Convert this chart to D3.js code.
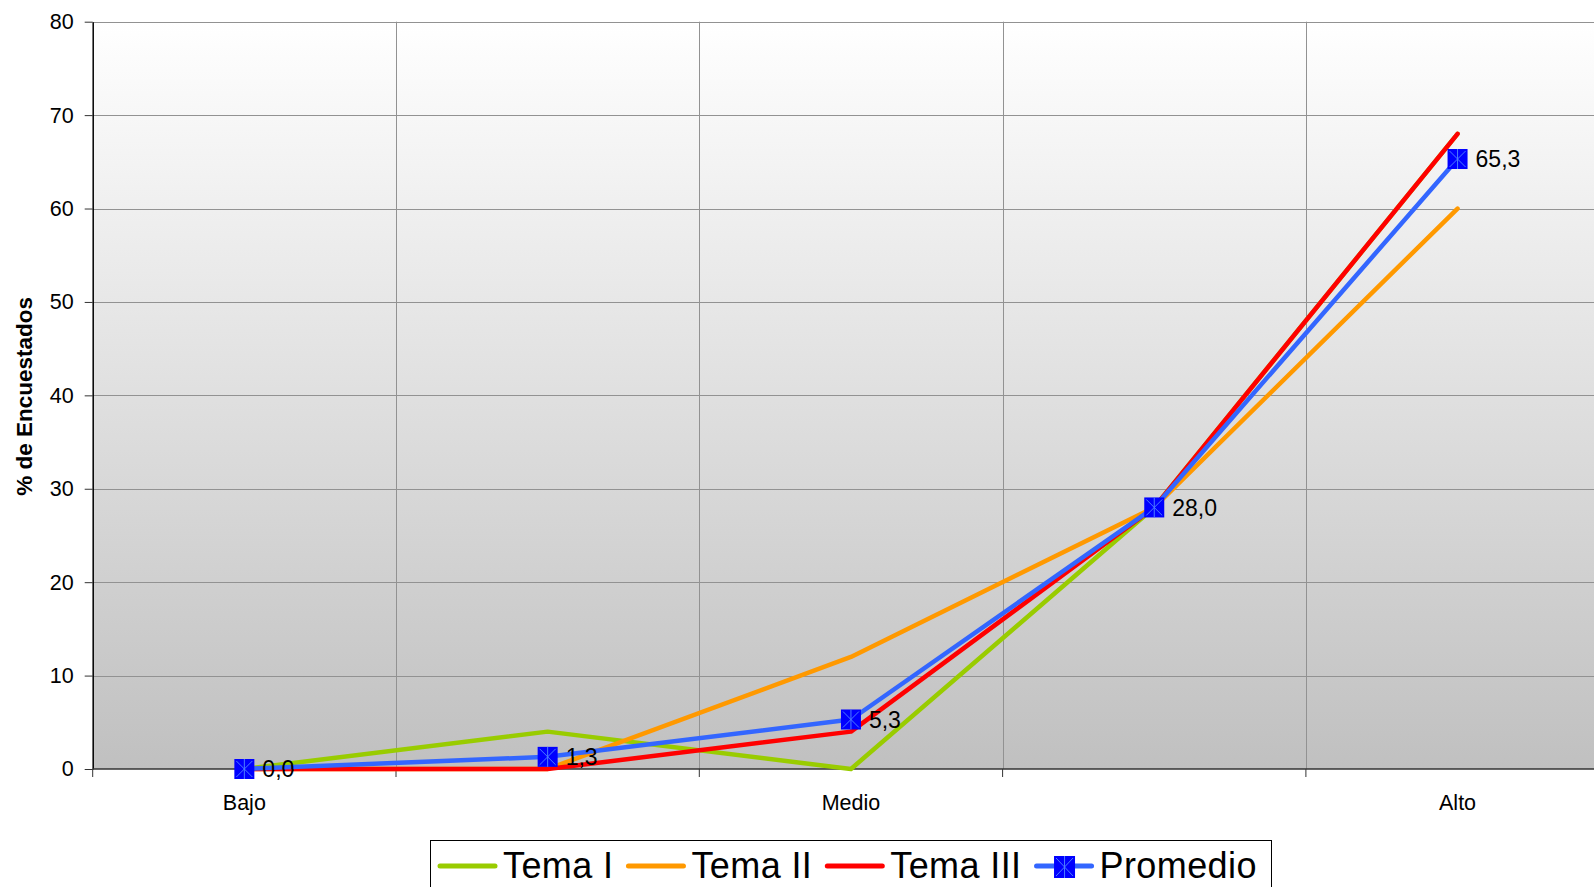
<!DOCTYPE html>
<html>
<head>
<meta charset="utf-8">
<script src="https://cdn.jsdelivr.net/npm/d3@7"></script>
<style>
    body { margin: 0; background: #fff; }
    svg { display: block; font-family: "Liberation Sans", Arial, sans-serif; }
</style>
</head>
<body>
<svg></svg>
<script>
let width = 1594
let height = 887

let categories = ['Bajo', '', 'Medio', '', 'Alto']
let seriesNames = ['Tema I', 'Tema II', 'Tema III', 'Promedio']
let temaI = [0, 4, 0, 28, 68]
let temaII = [0, 0, 12, 28, 60]
let temaIII = [0, 0, 4, 28, 68]
let promedio = [0, 1.3, 5.3, 28, 65.3]
let yTicks = [0, 10, 20, 30, 40, 50, 60, 70, 80]

let colors = ['#99cc00', '#ff9900', '#ff0000', '#3366ff']
let series = [temaI, temaII, temaIII, promedio]

let margin = { left: 92.7, top: 21.7 }
let step = 303.3
let plotBottom = 769

let svg = d3.select('svg')
    .attr('width', width)
    .attr('height', height)

let x = d3.scaleBand()
    .domain(d3.range(categories.length))
    .range([margin.left, margin.left + step * categories.length])
    .padding(0)
let y = d3.scaleLinear()
    .domain([0, 80])
    .range([plotBottom, margin.top])

let defs = svg.append('defs')
let grad = defs.append('linearGradient')
    .attr('id', 'bg')
    .attr('x1', 0).attr('y1', 0).attr('x2', 0).attr('y2', 1)
grad.append('stop').attr('offset', '0%').attr('stop-color', '#ffffff')
grad.append('stop').attr('offset', '100%').attr('stop-color', '#c0c0c0')

let plotRight = x.range()[1]
svg.append('rect')
    .attr('x', margin.left)
    .attr('y', margin.top)
    .attr('width', plotRight - margin.left)
    .attr('height', plotBottom - margin.top)
    .attr('fill', 'url(#bg)')

// horizontal gridlines
svg.append('g').selectAll('line')
    .data(yTicks.filter(d => d > 0)).enter()
    .append('line')
    .attr('x1', margin.left)
    .attr('x2', plotRight)
    .attr('y1', d => Math.round(y(d)) + 0.5)
    .attr('y2', d => Math.round(y(d)) + 0.5)
    .attr('stroke', '#929292')
    .attr('stroke-width', 1)

// vertical gridlines at category boundaries
let boundaries = d3.range(1, categories.length + 1)
svg.append('g').selectAll('line')
    .data(boundaries).enter()
    .append('line')
    .attr('x1', d => Math.round(x(d - 1) + x.bandwidth()) + 0.5)
    .attr('x2', d => Math.round(x(d - 1) + x.bandwidth()) + 0.5)
    .attr('y1', margin.top)
    .attr('y2', plotBottom)
    .attr('stroke', '#929292')
    .attr('stroke-width', 1)

// y axis
let yAxis = svg.append('g')
    .attr('transform', `translate(${margin.left},0)`)
    .call(d3.axisLeft(y).tickValues(yTicks).tickSize(8).tickSizeOuter(0).tickPadding(11).tickFormat(d3.format('d')))
yAxis.select('.domain').attr('stroke', '#000').attr('stroke-width', 1.5)
yAxis.selectAll('.tick line').attr('stroke', '#333')
yAxis.selectAll('text')
    .attr('font-size', 21.5)
    .attr('font-family', '"Liberation Sans", Arial, sans-serif')
    .attr('fill', '#000')

// x axis line and boundary ticks
svg.append('line')
    .attr('x1', margin.left)
    .attr('x2', plotRight)
    .attr('y1', plotBottom)
    .attr('y2', plotBottom)
    .attr('stroke', '#333')
    .attr('stroke-width', 1.5)
svg.append('g').selectAll('line')
    .data(d3.range(0, categories.length + 1)).enter()
    .append('line')
    .attr('x1', d => d === 0 ? margin.left : x(d - 1) + x.bandwidth())
    .attr('x2', d => d === 0 ? margin.left : x(d - 1) + x.bandwidth())
    .attr('y1', plotBottom)
    .attr('y2', plotBottom + 8)
    .attr('stroke', '#333')
    .attr('stroke-width', 1)
svg.append('g').selectAll('text')
    .data(categories).enter()
    .append('text')
    .attr('x', (d, i) => x(i) + x.bandwidth() / 2)
    .attr('y', 810)
    .attr('text-anchor', 'middle')
    .attr('font-size', 21.5)
    .text(d => d)

// y axis title
svg.append('text')
    .attr('transform', `translate(32,${(margin.top + plotBottom) / 2 + 1}) rotate(-90)`)
    .attr('text-anchor', 'middle')
    .attr('font-size', 22.5)
    .attr('font-weight', 'bold')
    .text('% de Encuestados')

// lines
let line = d3.line()
    .x((d, i) => x(i) + x.bandwidth() / 2)
    .y(d => y(d))
svg.append('g').selectAll('path')
    .data(series).enter()
    .append('path')
    .attr('d', line)
    .attr('fill', 'none')
    .attr('stroke', (d, i) => colors[i])
    .attr('stroke-width', 4.5)
    .attr('stroke-linejoin', 'round')
    .attr('stroke-linecap', 'round')

function drawMarker(g, cx, cy, w, h) {
    g.append('rect')
        .attr('x', cx - w / 2)
        .attr('y', cy - h / 2)
        .attr('width', w)
        .attr('height', h)
        .attr('fill', '#0000ff')
    g.append('path')
        .attr('d', `M${cx - w / 2 + 2},${cy - h / 2 + 2}L${cx + w / 2 - 2},${cy + h / 2 - 2}` +
            `M${cx + w / 2 - 2},${cy - h / 2 + 2}L${cx - w / 2 + 2},${cy + h / 2 - 2}` +
            `M${cx},${cy - h / 2}L${cx},${cy + h / 2}`)
        .attr('stroke', '#4d7dff')
        .attr('stroke-width', 1)
        .attr('fill', 'none')
}

// promedio markers and labels
let markerGroup = svg.append('g')
promedio.forEach((v, i) => {
    let cx = x(i) + x.bandwidth() / 2
    let cy = y(v)
    drawMarker(markerGroup, cx, cy, 20, 20)
    markerGroup.append('text')
        .attr('x', cx + 18)
        .attr('y', cy)
        .attr('dy', '0.36em')
        .attr('font-size', 23)
        .text(d3.format('.1f')(v).replace('.', ','))
})

// legend
let legend = svg.append('g')
legend.append('rect')
    .attr('x', 430.5)
    .attr('y', 840.5)
    .attr('width', 841)
    .attr('height', 80)
    .attr('fill', '#fff')
    .attr('stroke', '#000')
    .attr('stroke-width', 1)
let lx = 438
seriesNames.forEach((name, i) => {
    legend.append('line')
        .attr('x1', lx + 2)
        .attr('x2', lx + 57)
        .attr('y1', 866)
        .attr('y2', 866)
        .attr('stroke', colors[i])
        .attr('stroke-width', 5)
        .attr('stroke-linecap', 'round')
    if (name === 'Promedio') drawMarker(legend, lx + 30, 867, 21, 22)
    let t = legend.append('text')
        .attr('x', lx + 65)
        .attr('y', 878)
        .attr('font-size', 36)
        .attr('letter-spacing', 0.4)
        .text(name)
    lx += 65 + t.node().getComputedTextLength() + 13
})
</script>
</body>
</html>
